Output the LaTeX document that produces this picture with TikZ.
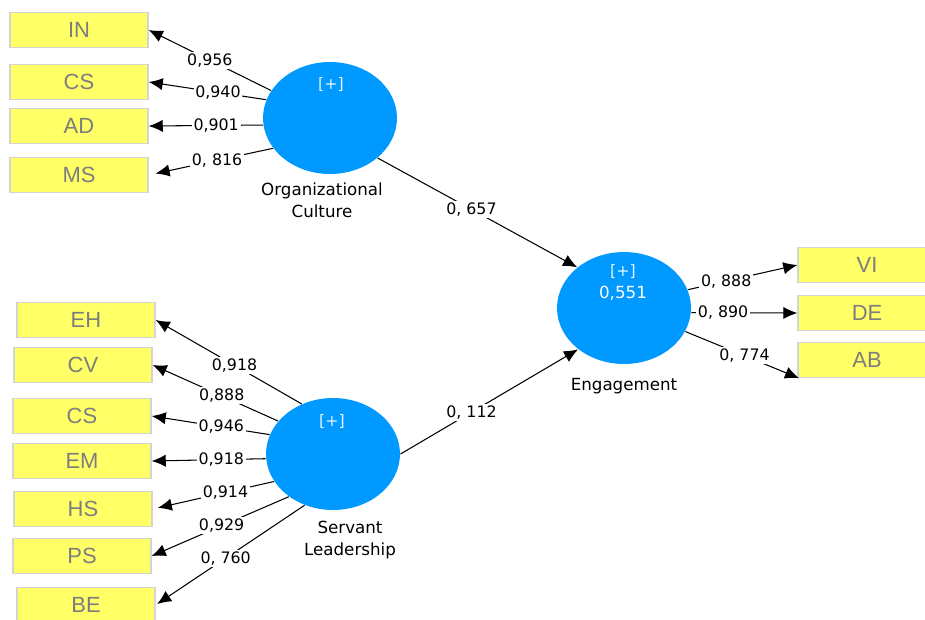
\documentclass[tikz,border=0pt]{standalone}
\usepackage{fontspec}
\setmainfont{DejaVu Sans}
\newfontfamily\boxfont{Liberation Sans}
\usetikzlibrary{arrows.meta,shapes.geometric,positioning}
\definecolor{latblue}{RGB}{0,153,255}
\definecolor{indyellow}{RGB}{255,255,102}
\definecolor{indborder}{RGB}{212,212,212}
\definecolor{indtext}{RGB}{125,125,125}

\begin{document}
\begin{tikzpicture}[x=0.02cm, y=-0.02cm, >={Latex[length=8pt,width=7pt]}, line width=0.6pt,
  indicatore/.style={draw=indborder, line width=0.8pt, fill=indyellow, minimum width=2.76cm, minimum height=0.7cm, inner sep=0pt, text=indtext, font=\boxfont\fontsize{12.5}{14}\selectfont},
  costrutto/.style={ellipse, fill=latblue, minimum width=2.68cm, minimum height=2.24cm, inner sep=0pt},
  segno/.style={text=white!88!latblue, inner sep=0pt, font=\fontsize{9}{10}\selectfont},
  peso/.style={fill=white, inner sep=1pt, font=\fontsize{9}{10}\selectfont},
  nome/.style={align=center, font=\fontsize{9.5}{12.5}\selectfont}]
\useasboundingbox (0,0) rectangle (925,619);
\clip (0,0) rectangle (925,619);
% indicatori di Organizational Culture
\node[indicatore] (in)  at (79,30)  {IN};
\node[indicatore] (cs1) at (79,82)  {CS};
\node[indicatore] (ad)  at (79,126) {AD};
\node[indicatore] (ms)  at (79,175) {MS};
% indicatori di Servant Leadership
\node[indicatore] (eh)  at (86,320) {EH};
\node[indicatore] (cv)  at (83,365) {CV};
\node[indicatore] (cs2) at (82,416) {CS};
\node[indicatore] (em)  at (82,461) {EM};
\node[indicatore] (hs)  at (83,509) {HS};
\node[indicatore] (ps)  at (82,556) {PS};
\node[indicatore] (be)  at (86,605) {BE};
% indicatori di Engagement
\node[indicatore] (vi)  at (867,265) {VI};
\node[indicatore] (de)  at (867,313) {DE};
\node[indicatore] (ab)  at (867,360) {AB};
% costrutti latenti
\node[costrutto] (oc)  at (330,118) {};
\node[costrutto] (sl)  at (333,454) {};
\node[costrutto] (eng) at (624,308) {};
\node[segno] (ocp)  at (331,85)  {[+]};
\node[segno] (slp)  at (332,422) {[+]};
\node[segno] (engp) at (623,272) {[+]};
\node[segno, text=white, font=\fontsize{9.5}{11}\selectfont] (engr) at (623,293) {0,551};
\node[nome] (ocn)  at (322,200) {Organizational\\Culture};
\node[nome] (sln)  at (350,540) {Servant\\Leadership};
\node[nome] (engn) at (624,386) {Engagement};
% pesi esterni
\draw[->] (oc.155) -- node[peso, pos=0.5]  {0,956} (in.east);
\draw[->] (oc.164) -- node[peso, pos=0.41] {0,940} (cs1.east);
\draw[->] (oc.186) -- node[peso, pos=0.41] {0,901} (ad.east);
\draw[->, shorten >=4pt] (oc.208) -- node[peso, pos=0.45] {0, 816} (ms.east);
\draw[->] (sl.122) -- node[peso, pos=0.46] {0,918} (eh.east);
\draw[->] (sl.149) -- node[peso, pos=0.45] {0,888} (cv.east);
\draw[->] (sl.163) -- node[peso, pos=0.41] {0,946} (cs2.east);
\draw[->] (sl.184) -- node[peso, pos=0.39] {0,918} (em.east);
\draw[->, shorten >=3pt] (sl.205) -- node[peso, pos=0.4] {0,914} (hs.east);
\draw[->] (sl.224) -- node[peso, pos=0.49] {0,929} (ps.east);
\draw[->, shorten >=1pt] (sl.241) -- node[peso, pos=0.53] {0, 760} (be.east);
\draw[->] (eng.16)  -- node[peso, pos=0.35] {0, 888} (vi.west);
\draw[->] (eng.-4)  -- node[peso, pos=0.3]  {0, 890} (de.west);
\draw[->] (eng.-21) -- node[peso, pos=0.52] {0, 774} (ab.195);
% coefficienti strutturali
\draw[->] (oc.-40) -- node[peso, pos=0.47] {0, 657} (eng.139);
\draw[->] (sl.0)   -- node[peso, pos=0.4]  {0, 112} (eng.222);
\end{tikzpicture}
\end{document}
